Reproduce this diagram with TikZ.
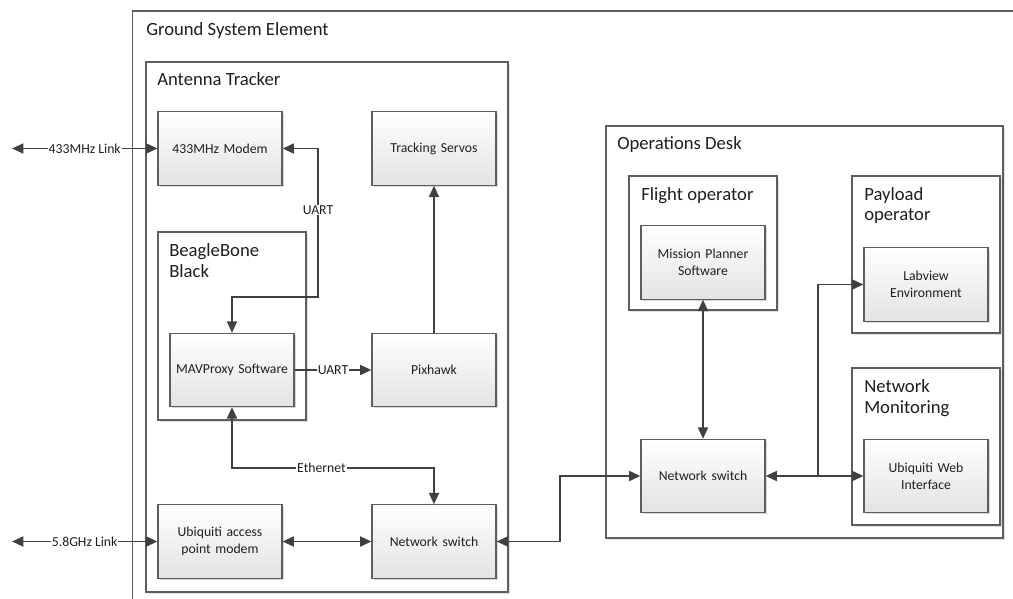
\documentclass[tikz,border=0pt]{standalone}
\usepackage{fontspec}
\setmainfont{Carlito}
\usetikzlibrary{arrows.meta,shadows}
\definecolor{edge}{HTML}{5E5E5E}
\definecolor{conn}{HTML}{404040}
\definecolor{txt}{HTML}{1F1F1F}
\tikzset{
  px/.style={x=0.75pt,y=-0.75pt},
  sbox/.style={draw=edge, line width=0.9pt, top color=white, bottom color=black!11,
    minimum width=93pt, minimum height=55pt, inner sep=1pt, align=center,
    text width=90pt, font=\fontsize{10.3}{12.5}\selectfont, text=txt,
    drop shadow={shadow xshift=1.3pt, shadow yshift=-1.3pt, opacity=0.25, fill=black!60}},
  cont/.style={draw=edge, line width=0.9pt, fill=white, inner sep=0pt,
    drop shadow={shadow xshift=1.3pt, shadow yshift=-1.3pt, opacity=0.2, fill=black!60}},
  title/.style={anchor=base west, inner sep=0pt, align=left, text=txt,
    font=\fontsize{14}{15.3}\selectfont},
  lbl/.style={fill=white, inner sep=0.6pt, text=txt, font=\fontsize{10.3}{12.5}\selectfont},
  conn/.style={draw=conn, line width=1.4pt},
  tip/.style={-{Triangle[length=8.5pt,width=7.5pt]}},
  tips/.style={{Triangle[length=8.5pt,width=7.5pt]}-{Triangle[length=8.5pt,width=7.5pt]}},
  rtip/.style={{Triangle[length=8.5pt,width=7.5pt]}-},
}
\begin{document}
\begin{tikzpicture}[px]
\useasboundingbox (0,0) rectangle (1013,599);
% outer container
\node[cont, drop shadow={opacity=0}, minimum width=663pt, minimum height=450pt] (gse) at (574.5,311) {};
\node[title] (gset) at (146,36) {Ground System Element};
% antenna tracker
\node[cont, minimum width=271.5pt, minimum height=397.5pt] (at) at (327,327) {};
\node[title] (att) at (157,86) {Antenna Tracker};
% BeagleBone
\node[cont, minimum width=111pt, minimum height=141pt] (bbb) at (232,326) {};
\node[title] (bbbt) at (169,277) {BeagleBone\\Black};
% operations desk
\node[cont, minimum width=297.75pt, minimum height=309pt] (ops) at (804.5,332) {};
\node[title] (opst) at (617,150) {Operations Desk};
\node[cont, minimum width=111pt, minimum height=100.5pt] (fo) at (703,243) {};
\node[title] (fot) at (641,200.5) {Flight operator};
\node[cont, minimum width=111pt, minimum height=117.75pt] (po) at (926,254.5) {};
\node[title] (pot) at (864,220.5) {Payload\\operator};
\node[cont, minimum width=111pt, minimum height=117.75pt] (nm) at (926,446.5) {};
\node[title] (nmt) at (864,413) {Network\\Monitoring};
% boxes
\node[sbox] (modem) at (220,148.5) {433MHz Modem};
\node[sbox] (servos) at (434,148.5) {Tracking Servos};
\node[sbox] (mav) at (232,370) {MAVProxy Software};
\node[sbox] (pix) at (434,370) {Pixhawk};
\node[sbox] (ubi) at (220,541.5) {Ubiquiti access\\point modem};
\node[sbox] (nsl) at (434,541.5) {Network switch};
\node[sbox] (mp) at (703,262.5) {Mission Planner\\Software};
\node[sbox] (lab) at (926,284.5) {Labview\\Environment};
\node[sbox] (uwi) at (926,476) {Ubiquiti Web\\Interface};
\node[sbox] (nsr) at (703,476) {Network switch};
% connectors
\coordinate (l433) at (12,148.5);
\coordinate (l58) at (12,541.5);
\draw[conn,tips] (l433) -- node[lbl] (l433t) {433MHz Link} (modem.west);
\draw[conn,tips] (l58) -- node[lbl] (l58t) {5.8GHz Link} (ubi.west);
\coordinate (u1) at (318,297);
\draw[conn,tips] (modem.east) -| (u1) -| (mav.north);
\node[lbl] (uartv) at (318,210) {UART};
\draw[conn,tip] (mav.east) -- node[lbl] (uarth) {UART} (pix.west);
\draw[conn,tip] (pix.north) -- (servos.south);
\coordinate (e1) at (434,468);
\draw[conn,tips] (mav.south) |- (e1) -- (nsl.north);
\node[lbl] (eth) at (321.5,468) {Ethernet};
\draw[conn,tips] (ubi.east) -- (nsl.west);
\coordinate (c1) at (560,476);
\draw[conn,tips] (nsl.east) -| (c1) -- (nsr.west);
\draw[conn,tips] (mp.south) -- (nsr.north);
\coordinate (c2) at (818,476);
\draw[conn,rtip] (nsr.east) -- (c2);
\draw[conn,tip] (c2) |- (lab.west);
\draw[conn,tip] (c2) -- (uwi.west);
\end{tikzpicture}
\end{document}
